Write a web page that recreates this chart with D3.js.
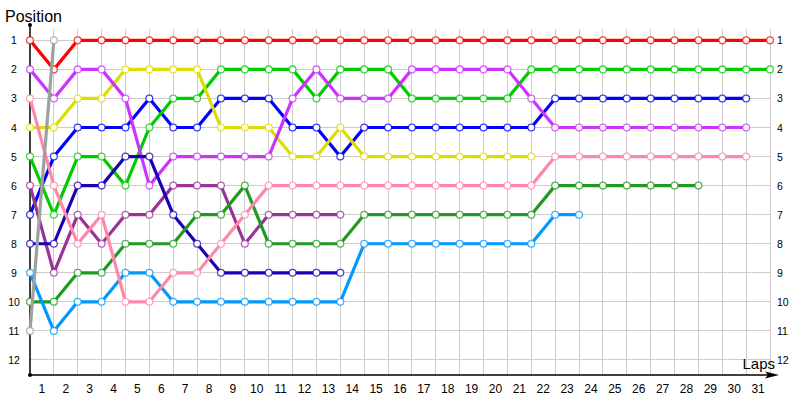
<!DOCTYPE html>
<html>
<head>
<meta charset="utf-8">
<script src="https://cdn.jsdelivr.net/npm/d3@7"></script>
<style>
html,body{margin:0;padding:0;background:#fff;}
svg{display:block;font-family:"Liberation Sans",Arial,sans-serif;}
</style>
</head>
<body>
<svg id="chart" width="800" height="400"></svg>
<script>
// ---- data (positions per lap, index = lap number starting at 0) ----
const lapLabels = [1,2,3,4,5,6,7,8,9,10,11,12,13,14,15,16,17,18,19,20,21,22,23,24,25,26,27,28,29,30,31];
const positionLabels = [1,2,3,4,5,6,7,8,9,10,11,12];

const redCar       = [1,2,1,1,1,1,1,1,1,1,1,1,1,1,1,1,1,1,1,1,1,1,1,1,1,1,1,1,1,1,1,1];
const blueCar      = [7,5,4,4,4,3,4,4,3,3,3,4,4,5,4,4,4,4,4,4,4,4,3,3,3,3,3,3,3,3,3];
const greenCar     = [5,7,5,5,6,4,3,3,2,2,2,2,3,2,2,2,3,3,3,3,3,2,2,2,2,2,2,2,2,2,2,2];
const yellowCar    = [4,4,3,3,2,2,2,2,4,4,4,5,5,4,5,5,5,5,5,5,5,5];
const magentaCar   = [2,3,2,2,3,6,5,5,5,5,5,3,2,3,3,3,2,2,2,2,2,3,4,4,4,4,4,4,4,4,4];
const purpleCar    = [6,9,7,8,7,7,6,6,6,8,7,7,7,7];
const navyCar      = [8,8,6,6,5,5,7,8,9,9,9,9,9,9];
const darkGreenCar = [10,10,9,9,8,8,8,7,7,6,8,8,8,8,7,7,7,7,7,7,7,7,6,6,6,6,6,6,6];
const lightBlueCar = [9,11,10,10,9,9,10,10,10,10,10,10,10,10,8,8,8,8,8,8,8,8,7,7];
const pinkCar      = [3,6,8,7,10,10,9,9,8,7,6,6,6,6,6,6,6,6,6,6,6,6,5,5,5,5,5,5,5,5,5];
const grayCar      = [11,1];

// ---- styles ----
const series = [
  {values: redCar,       color: "#ff0000"},
  {values: blueCar,      color: "#0000ff"},
  {values: greenCar,     color: "#00cc00"},
  {values: yellowCar,    color: "#dddd00"},
  {values: magentaCar,   color: "#cc33ff"},
  {values: purpleCar,    color: "#993399"},
  {values: navyCar,      color: "#1c00b8"},
  {values: darkGreenCar, color: "#229922"},
  {values: lightBlueCar, color: "#0099ff"},
  {values: pinkCar,      color: "#ff88aa"},
  {values: grayCar,      color: "#a0a0a0"}
];

const svg = d3.select("#chart");
const x = d3.scaleLinear().domain([0, 31]).range([30, 770]);
const y = d3.scaleLinear().domain([0.5, 12.5]).range([25.8, 374.5]);
const axisY = 375;

// grid
const grid = svg.append("g");
grid.selectAll("line.h").data(positionLabels).enter().append("line")
  .attr("x1", x(0)).attr("x2", x(31))
  .attr("y1", d => y(d)).attr("y2", d => y(d))
  .attr("stroke", "#cccccc").attr("stroke-width", 1).attr("shape-rendering","crispEdges");
grid.selectAll("line.v").data(lapLabels).enter().append("line")
  .attr("x1", d => x(d)).attr("x2", d => x(d))
  .attr("y1", 29).attr("y2", axisY)
  .attr("stroke", "#cccccc").attr("stroke-width", 1).attr("shape-rendering","crispEdges");

// axes
svg.append("line").attr("x1", 30).attr("x2", 30).attr("y1", 25).attr("y2", axisY)
  .attr("stroke", "#000").attr("stroke-width", 1.5);
svg.append("line").attr("x1", 30).attr("x2", 770).attr("y1", axisY).attr("y2", axisY)
  .attr("stroke", "#000").attr("stroke-width", 1.5);
svg.append("circle").attr("cx", 30).attr("cy", 25).attr("r", 2).attr("fill", "#000");
svg.append("circle").attr("cx", 30).attr("cy", axisY).attr("r", 2).attr("fill", "#000");
svg.append("path").attr("d", "M765,371.5 L779,375 L765,378.5 L768,375 Z").attr("fill", "#000");

// tick labels
const tl = svg.append("g").attr("font-size", 10.5).attr("fill", "#000");
tl.selectAll("text.l").data(positionLabels).enter().append("text")
  .attr("x", 14).attr("y", d => y(d)).attr("text-anchor", "middle")
  .attr("dominant-baseline", "central").text(d => d);
tl.selectAll("text.r").data(positionLabels).enter().append("text")
  .attr("x", 777).attr("y", d => y(d)).attr("text-anchor", "start")
  .attr("dominant-baseline", "central").text(d => d);
svg.append("g").attr("font-size", 12).selectAll("text").data(lapLabels).enter().append("text")
  .attr("x", d => x(d - 0.5)).attr("y", 393).attr("text-anchor", "middle").text(d => d);

// titles
svg.append("text").attr("x", 5).attr("y", 21.5).attr("font-size", 16).text("Position");
svg.append("text").attr("x", 775).attr("y", 369).attr("font-size", 15).attr("text-anchor", "end").text("Laps");

// series
const line = d3.line().x((d, i) => x(i)).y(d => y(d));
series.forEach(s => {
  const g = svg.append("g");
  g.append("path").datum(s.values).attr("d", line)
    .attr("fill", "none").attr("stroke", s.color).attr("stroke-width", 3.2)
    .attr("stroke-linejoin", "round");
  g.selectAll("circle").data(s.values).enter().append("circle")
    .attr("cx", (d, i) => x(i)).attr("cy", d => y(d)).attr("r", 3.4)
    .attr("fill", "#fff").attr("stroke", s.color).attr("stroke-opacity", 0.75)
    .attr("stroke-width", 1.3);
});
</script>
</body>
</html>
